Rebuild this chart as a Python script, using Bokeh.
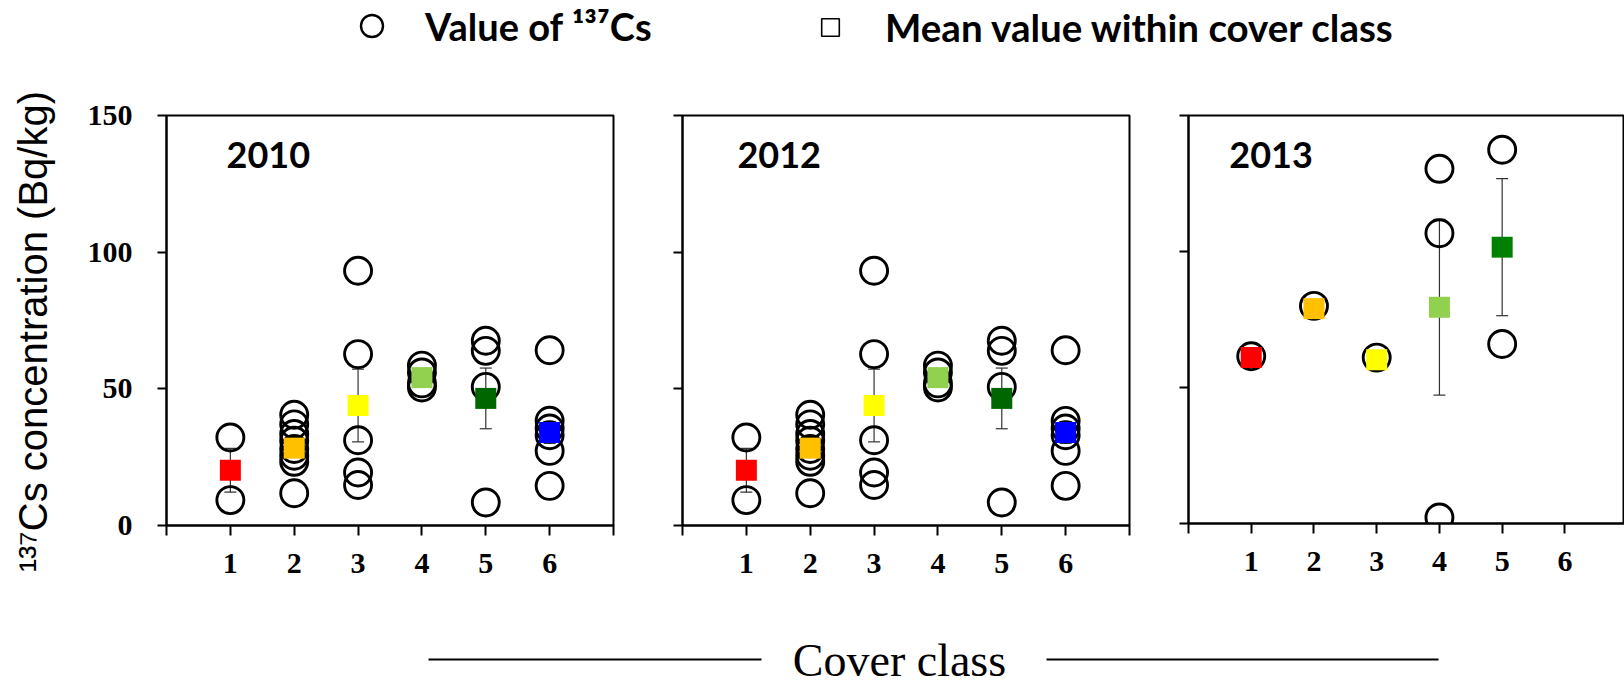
from bokeh.plotting import figure
from bokeh.layouts import column, row
from bokeh.models import (Range1d, FixedTicker, ColumnDataSource, Whisker, TeeHead,
                          Label, Legend, LegendItem)
from bokeh.embed import file_html
from bokeh.resources import INLINE
from bokeh.core.properties import value

# ---------------- data ----------------
cover_classes = [1, 2, 3, 4, 5, 6]
tick_labels = ["1", "2", "3", "4", "5", "6"]
class_colors = ["#FF0000", "#FFC000", "#FFFF00", "#92D050", "#006600", "#0000FF"]
class_colors_2013 = ["#FF0000", "#FFC000", "#FFFF00", "#92D050", "#008000"]

# individual 137Cs values (Bq/kg)
cls_2010 = [1, 1, 2, 2, 2, 2, 2, 2, 2, 2, 3, 3, 3, 3, 3, 4, 4, 4, 4, 5, 5, 5, 5, 6, 6, 6, 6, 6, 6]
val_2010 = [32.2, 9.3, 40.5, 37.0, 33.5, 31.0, 28.0, 25.5, 23.3, 11.8,
            93.2, 62.7, 31.2, 19.4, 14.8, 58.5, 56.0, 52.0, 50.5,
            67.6, 63.9, 50.7, 8.4, 64.1, 38.3, 35.5, 33.0, 27.3, 14.5]
cls_2012 = [1, 1, 2, 2, 2, 2, 2, 2, 2, 2, 3, 3, 3, 3, 3, 4, 4, 4, 4, 5, 5, 5, 5, 6, 6, 6, 6, 6, 6]
val_2012 = [32.2, 9.3, 40.5, 37.0, 33.5, 31.0, 28.0, 25.5, 23.3, 11.8,
            93.2, 62.7, 31.2, 19.4, 14.8, 58.5, 56.0, 52.0, 50.5,
            67.6, 63.9, 50.7, 8.4, 64.1, 38.3, 35.5, 33.0, 27.3, 14.5]
cls_2013 = [1, 2, 3, 4, 4, 4, 5, 5]
val_2013 = [61.5, 80.0, 61.0, 130.4, 106.7, 2.2, 137.4, 66.0]

# means within cover class and their error (half bar length)
mean_cls_2010 = [1, 2, 3, 4, 5, 6]
mean_2010 = [20.2, 28.3, 43.9, 54.1, 46.5, 34.0]
err_2010 = [8.0, 3.0, 13.3, 1.5, 11.1, 4.0]
mean_cls_2012 = [1, 2, 3, 4, 5, 6]
mean_2012 = [20.2, 28.3, 43.9, 54.1, 46.5, 34.0]
err_2012 = [8.0, 3.0, 13.3, 1.5, 11.1, 4.0]
mean_cls_2013 = [1, 2, 3, 4, 5]
mean_2013 = [61.0, 79.0, 60.2, 79.5, 101.6]
err_2013 = [0.0, 0.0, 0.0, 32.3, 25.2]

y_ticks = [0, 50, 100, 150]
x_ticks = [0, 1, 2, 3, 4, 5, 6, 7]

SERIF = "Liberation Serif"
SANS = "Liberation Sans"
CAL = "Lato"


def panel(year, cls, vals, mcls, means, errs, colors, xmax, fw, fh,
          mb_left, mb_right, mb_top, mb_bottom, show_ylabels, year_x):
    p = figure(frame_width=fw, frame_height=fh,
               x_range=Range1d(0, xmax), y_range=Range1d(0, 150),
               output_backend="svg", toolbar_location=None,
               min_border_left=mb_left, min_border_right=mb_right,
               min_border_top=mb_top, min_border_bottom=mb_bottom,
               background_fill_color="white", border_fill_color="white")
    p.grid.visible = False
    p.outline_line_color = "black"
    p.outline_line_width = 2
    p.outline_line_alpha = 1

    for ax in (p.xaxis[0], p.yaxis[0]):
        ax.axis_line_width = 2
        ax.axis_line_color = "black"
        ax.major_tick_line_width = 2
        ax.major_tick_line_color = "black"
        ax.major_tick_in = 0
        ax.minor_tick_line_color = None
        ax.major_label_text_font = SERIF
        ax.major_label_text_font_style = "bold"
        ax.major_label_text_font_size = "30px"
        ax.major_label_text_color = "black"

    p.xaxis.ticker = FixedTicker(ticks=x_ticks)
    overrides = {0: "", 7: ""}
    for c, t in zip(cover_classes, tick_labels):
        overrides[c] = t
    p.xaxis.major_label_overrides = overrides
    p.xaxis.major_tick_out = 10
    p.xaxis.major_label_standoff = 18

    p.yaxis.ticker = FixedTicker(ticks=y_ticks)
    p.yaxis.major_tick_out = 9
    p.yaxis.major_label_standoff = 25
    if not show_ylabels:
        p.yaxis.major_label_overrides = {t: "" for t in y_ticks}

    # error bars
    wb = [m for m, e in zip(mcls, errs) if e > 0]
    wl = [v - e for v, e in zip(means, errs) if e > 0]
    wu = [v + e for v, e in zip(means, errs) if e > 0]
    src = ColumnDataSource(dict(base=wb, lower=wl, upper=wu))
    w = Whisker(source=src, base="base", lower="lower", upper="upper",
                dimension="height", line_color="#333333", line_width=1.2,
                upper_head=TeeHead(size=12, line_color="#333333", line_width=1.2),
                lower_head=TeeHead(size=12, line_color="#333333", line_width=1.2),
                level="underlay")
    p.add_layout(w)

    # individual values
    p.scatter(cls, vals, marker="circle", size=27, fill_color=None,
              line_color="black", line_width=2.9)
    # means
    p.scatter(mcls, means, marker="square", size=21,
              fill_color=colors[:len(mcls)], line_color=None)

    p.add_layout(Label(x=year_x, y=135.5, text=year, text_font=CAL,
                       text_font_style="bold", text_font_size="36px",
                       text_color="black", text_baseline="alphabetic"))
    return p


p1 = panel("2010", cls_2010, val_2010, mean_cls_2010, mean_2010, err_2010,
           class_colors, 7, 447, 410, 166, 29, 53, 70, True, 0.94)
p1.yaxis.axis_label = "¹³⁷Cs concentration (Bq/kg)\u00a0\u00a0"
p1.yaxis.axis_label_text_font = SANS
p1.yaxis.axis_label_text_font_style = "normal"
p1.yaxis.axis_label_text_font_size = "40px"
p1.yaxis.axis_label_text_color = "black"
p1.yaxis.axis_label_standoff = 30

p2 = panel("2012", cls_2012, val_2012, mean_cls_2012, mean_2012, err_2012,
           class_colors, 7, 447, 410, 40, 19, 53, 70, False, 0.86)

p3 = panel("2013", cls_2013, val_2013, mean_cls_2013, mean_2013, err_2013,
           class_colors_2013, 6.95, 436, 408, 40, 0, 55, 70, False, 0.65)

# ---------------- legend strip ----------------
lg = figure(width=1624, height=60, x_range=Range1d(0, 1), y_range=Range1d(0, 1),
            x_axis_type=None, y_axis_type=None, min_border=0,
            output_backend="svg", toolbar_location=None)
lg.grid.visible = False
lg.outline_line_color = None
# legend keys only (kept outside the visible range)
r_circ = lg.scatter([-5], [-5], marker="circle", fill_color=None,
                    line_color="black", line_width=2.4)
r_sq = lg.scatter([-5], [-5], marker="square", fill_color=None,
                  line_color="black", line_width=1.6)

leg1 = Legend(items=[LegendItem(label="Value of ¹³⁷Cs", renderers=[r_circ])],
              location=(344, 7), glyph_width=55, glyph_height=55,
              label_standoff=26, padding=0, margin=0, border_line_color=None,
              background_fill_alpha=0, label_text_font=CAL,
              label_text_font_style="bold", label_text_font_size="38px",
              label_text_color="black")
leg2 = Legend(items=[LegendItem(label="Mean value within cover class", renderers=[r_sq])],
              location=(808, 10), glyph_width=44, glyph_height=44,
              label_standoff=33, padding=0, margin=0, border_line_color=None,
              background_fill_alpha=0, label_text_font=CAL,
              label_text_font_style="bold", label_text_font_size="38.5px",
              label_text_color="black")
lg.add_layout(leg1)
lg.add_layout(leg2)

# ---------------- common x label strip ----------------
bt = figure(width=1624, height=92, x_range=Range1d(0, 1624), y_range=Range1d(0, 92),
            x_axis_type=None, y_axis_type=None, min_border=0,
            output_backend="svg", toolbar_location=None)
bt.grid.visible = False
bt.outline_line_color = None
bt.segment(x0=[428, 1046], y0=[26, 26], x1=[761, 1438], y1=[26, 26],
           line_color="black", line_width=2)
bt.text(x=[899], y=[25], text=["Cover class"], text_font=value(SERIF),
        text_font_size="46px", text_align="center", text_baseline="alphabetic",
        text_color="black")

layout = column(lg, row(p1, p2, p3), bt)
open("out.html", "w").write(file_html(layout, INLINE))
